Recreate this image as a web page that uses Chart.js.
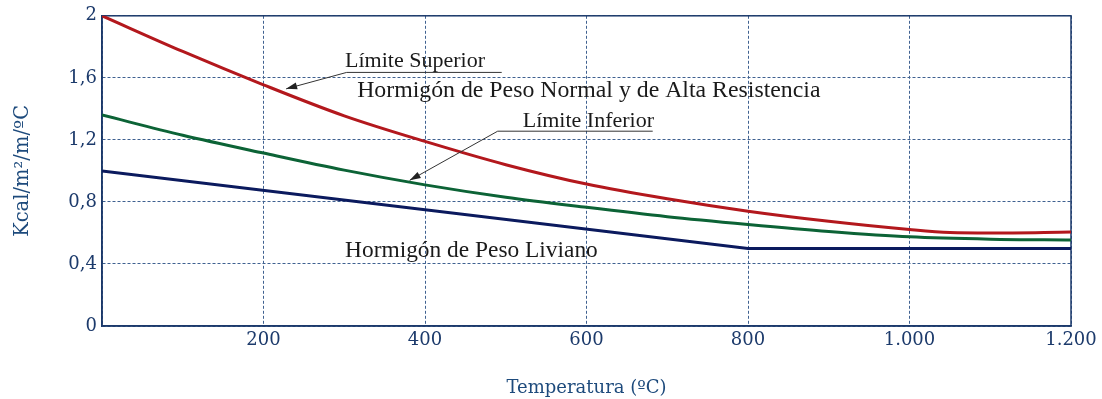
<!DOCTYPE html>
<html>
<head>
<meta charset="utf-8">
<script src="https://cdn.jsdelivr.net/npm/chart.js@4/dist/chart.umd.min.js"></script>
<style>
  html, body { margin: 0; padding: 0; background: #fff; }
  #wrap { width: 1102px; height: 399px; }
</style>
</head>
<body>
<div id="wrap"><canvas id="chart"></canvas></div>
<script>
// temperatura (ºC)
const tempsSup = [0, 100, 200, 300, 400, 500, 600, 700, 800, 900, 1000, 1050, 1100, 1200];
const tempsInf = [0, 100, 200, 300, 400, 500, 600, 700, 800, 900, 1000, 1100, 1200];
// hormigón de peso normal y de alta resistencia
const limiteSuperior = [2.0, 1.77, 1.555, 1.355, 1.19, 1.04, 0.915, 0.82, 0.74, 0.675, 0.622, 0.603, 0.600, 0.606];
const limiteInferior = [1.36, 1.23, 1.115, 1.005, 0.91, 0.83, 0.765, 0.705, 0.655, 0.61, 0.575, 0.56, 0.555];
// hormigón de peso liviano
const tempsLiviano = [0, 800, 1200];
const liviano = [1.0, 0.5, 0.5];

const xTicks = [200, 400, 600, 800, 1000, 1200];

// textos del gráfico (en unidades de datos)
const notes = [
  { text: "Límite Superior", size: 22, x: 301, y: 1.668, line: [303, 495, 1.635], arrowTo: [228, 1.529] },
  { text: "Hormigón de Peso Normal y de Alta Resistencia", size: 23.8, x: 316, y: 1.475 },
  { text: "Límite Inferior", size: 22, x: 521, y: 1.282, line: [490, 682, 1.256], arrowTo: [381, 0.939] },
  { text: "Hormigón de Peso Liviano", size: 23.4, x: 301, y: 0.446 }
];

const NAVY = "#1c3a6b";
const GRID = "#3f6190";

function pts(xs, ys) {
  return xs.map((x, i) => ({ x, y: ys[i] }));
}

const frame = {
  id: "frame",
  beforeDatasetsDraw(c) {
    const a = c.chartArea, ctx = c.ctx;
    ctx.save();
    ctx.strokeStyle = NAVY;
    ctx.lineWidth = 1.5;
    ctx.strokeRect(a.left, a.top, a.right - a.left, a.bottom - a.top);
    ctx.restore();
  }
};

const labels = {
  id: "labels",
  afterDatasetsDraw(c) {
    const ctx = c.ctx, sx = c.scales.x, sy = c.scales.y;
    ctx.save();
    ctx.textBaseline = "alphabetic";
    notes.forEach(n => {
      ctx.font = n.size + "px 'Liberation Serif'";
      ctx.fillStyle = "#1a1a1a";
      ctx.fillText(n.text, sx.getPixelForValue(n.x), sy.getPixelForValue(n.y));
      if (n.line) {
        const x1 = sx.getPixelForValue(n.line[0]);
        const x2 = sx.getPixelForValue(n.line[1]);
        const yl = sy.getPixelForValue(n.line[2]);
        const tx = sx.getPixelForValue(n.arrowTo[0]);
        const ty = sy.getPixelForValue(n.arrowTo[1]);
        ctx.strokeStyle = "#333";
        ctx.lineWidth = 1;
        ctx.beginPath();
        ctx.moveTo(x2, yl);
        ctx.lineTo(x1, yl);
        ctx.lineTo(tx, ty);
        ctx.stroke();
        const ang = Math.atan2(ty - yl, tx - x1);
        ctx.fillStyle = "#222";
        ctx.beginPath();
        ctx.moveTo(tx, ty);
        ctx.lineTo(tx - 11 * Math.cos(ang) + 3.5 * Math.sin(ang), ty - 11 * Math.sin(ang) - 3.5 * Math.cos(ang));
        ctx.lineTo(tx - 11 * Math.cos(ang) - 3.5 * Math.sin(ang), ty - 11 * Math.sin(ang) + 3.5 * Math.cos(ang));
        ctx.closePath();
        ctx.fill();
      }
    });
    ctx.restore();
  }
};

new Chart(document.getElementById("chart"), {
  type: "line",
  data: {
    datasets: [
      {
        label: "Límite Superior",
        data: pts(tempsSup, limiteSuperior),
        borderColor: "#b3181d",
        borderWidth: 3,
        cubicInterpolationMode: "monotone",
        pointRadius: 0
      },
      {
        label: "Límite Inferior",
        data: pts(tempsInf, limiteInferior),
        borderColor: "#0c6336",
        borderWidth: 3,
        cubicInterpolationMode: "monotone",
        pointRadius: 0
      },
      {
        label: "Hormigón de Peso Liviano",
        data: pts(tempsLiviano, liviano),
        borderColor: "#0b1a5e",
        borderWidth: 3,
        tension: 0,
        pointRadius: 0
      }
    ]
  },
  options: {
    responsive: true,
    maintainAspectRatio: false,
    animation: false,
    layout: { padding: { top: 15, right: 31, left: 0, bottom: 0 } },
    plugins: { legend: { display: false }, tooltip: { enabled: false } },
    scales: {
      x: {
        type: "linear",
        min: 0,
        max: 1200,
        afterFit: s => { s.height = 73; },
        afterBuildTicks: s => { s.ticks = [0].concat(xTicks).map(v => ({ value: v })); },
        ticks: {
          color: NAVY,
          padding: 4,
          maxRotation: 0,
          font: { family: "'DejaVu Serif'", size: 18 },
          callback: v => v === 0 ? "" : v.toLocaleString("de-DE")
        },
        grid: { color: GRID, lineWidth: 1, drawTicks: false },
        border: { color: NAVY, width: 1.5, dash: [3, 2] },
        title: {
          display: true,
          text: "Temperatura (ºC)",
          color: "#1d4a7c",
          font: { family: "'DejaVu Serif'", size: 18 },
          padding: { top: 6, bottom: 0 }
        }
      },
      y: {
        min: 0,
        max: 2,
        afterFit: s => { s.width = 102; },
        ticks: {
          stepSize: 0.4,
          color: NAVY,
          padding: 5,
          font: { family: "'DejaVu Serif'", size: 18 },
          callback: v => Math.abs(v - Math.round(v)) < 1e-9 ? String(Math.round(v)) : v.toFixed(1).replace(".", ",")
        },
        grid: { color: GRID, lineWidth: 1, drawTicks: false },
        border: { color: NAVY, width: 1.5, dash: [3, 2] },
        title: {
          display: true,
          text: "Kcal/m²/m/ºC",
          color: "#1d4a7c",
          font: { family: "'DejaVu Serif'", size: 19.5 },
          padding: { top: 11, bottom: 0 }
        }
      }
    }
  },
  plugins: [frame, labels]
});
</script>
</body>
</html>
